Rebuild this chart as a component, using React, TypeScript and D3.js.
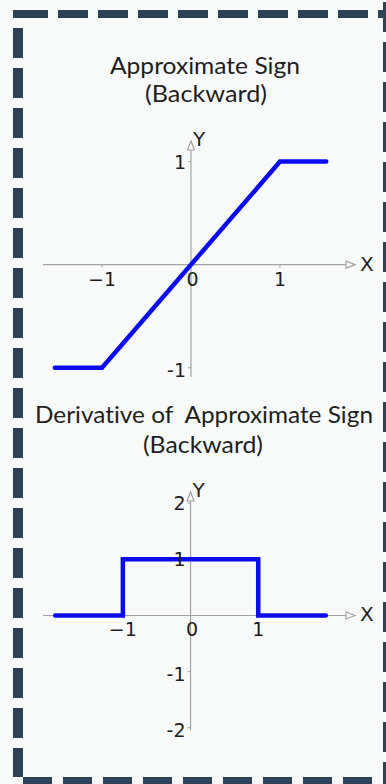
import React from "react";
import * as d3 from "d3";

const W = 386;
const H = 784;

// ---- Top chart: Approximate Sign (Backward)
const signTitle = ["Approximate Sign", "(Backward)"];
const signX = [-1.53, -1, 1, 1.52];
const signY = [-1, -1, 1, 1];
const signXTicks = [-1, 0, 1];
const signXTickLabels = ["−1", "0", "1"];
const signYTicks = [1, -1];
const signYTickLabels = ["1", "-1"];

// ---- Bottom chart: Derivative of Approximate Sign (Backward)
const derivTitle = ["Derivative of\u00a0 Approximate Sign", "(Backward)"];
const derivX = [-2, -1, -1, 1, 1, 2];
const derivY = [0, 0, 1, 1, 0, 0];
const derivXTicks = [-1, 0, 1];
const derivXTickLabels = ["−1", "0", "1"];
const derivYTicks = [2, 1, -1, -2];
const derivYTickLabels = ["2", "1", "-1", "-2"];

const BG = "#f8faf9";
const AXIS = "#a3a3a3";
const BLUE = "#0b0bf0";
const BORDER = "#2e4257";
const TEXT = "#1e1e1e";
const TICK_FONT = "'DejaVu Sans', sans-serif";
const TITLE_FONT = "Lato, 'Open Sans', sans-serif";

type PlotProps = {
  xs: number[];
  ys: number[];
  xDomain: [number, number];
  xRange: [number, number];
  yDomain: [number, number];
  yRange: [number, number];
  xTicks: number[];
  xTickLabels: string[];
  yTicks: number[];
  yTickLabels: string[];
};

function Plot(p: PlotProps) {
  const x = d3.scaleLinear().domain(p.xDomain).range(p.xRange);
  const y = d3.scaleLinear().domain(p.yDomain).range(p.yRange);
  const x0 = x(0);
  const y0 = y(0);
  const xTip = p.xRange[1];
  const yTip = p.yRange[1];
  const ah = 9; // arrow length
  const aw = 3.5; // arrow half-width
  const pts: [number, number][] = p.xs.map((v, i) => [v, p.ys[i]]);
  const line = d3
    .line<[number, number]>()
    .x((d) => x(d[0]))
    .y((d) => y(d[1]));
  return (
    <g>
      {/* x axis */}
      <line x1={p.xRange[0]} y1={y0} x2={xTip - ah} y2={y0} stroke={AXIS} strokeWidth={1.2} />
      <polygon
        points={`${xTip},${y0} ${xTip - ah},${y0 - aw} ${xTip - ah},${y0 + aw}`}
        fill={BG}
        stroke={AXIS}
        strokeWidth={1.2}
      />
      {/* y axis */}
      <line x1={x0} y1={p.yRange[0]} x2={x0} y2={yTip + ah} stroke={AXIS} strokeWidth={1.2} />
      <polygon
        points={`${x0},${yTip} ${x0 - aw},${yTip + ah} ${x0 + aw},${yTip + ah}`}
        fill={BG}
        stroke={AXIS}
        strokeWidth={1.2}
      />
      {/* ticks */}
      {p.xTicks.filter((t) => t !== 0).map((t) => (
        <line key={"xt" + t} x1={x(t)} x2={x(t)} y1={y0} y2={y0 + 3} stroke={AXIS} strokeWidth={1} />
      ))}
      {p.yTicks.map((t) => (
        <line key={"yt" + t} x1={x0} x2={x0 - 3} y1={y(t)} y2={y(t)} stroke={AXIS} strokeWidth={1} />
      ))}
      {/* data line */}
      <path d={line(pts) || ""} fill="none" stroke={BLUE} strokeWidth={4.5} strokeLinejoin="miter" strokeLinecap="round" />
      {/* tick labels */}
      {p.xTicks.map((t, i) => (
        <text
          key={"xl" + t}
          x={x(t) + (t === 0 ? 1.5 : 0)}
          y={y0 + 21}
          textAnchor="middle"
          fontFamily={TICK_FONT}
          fontSize={19}
          fill={TEXT}
        >
          {p.xTickLabels[i]}
        </text>
      ))}
      {p.yTicks.map((t, i) => (
        <text
          key={"yl" + t}
          x={x0 - 5}
          y={y(t) + 7 + (t < 0 ? 2 : 0)}
          textAnchor="end"
          fontFamily={TICK_FONT}
          fontSize={19}
          fill={TEXT}
        >
          {p.yTickLabels[i]}
        </text>
      ))}
      {/* axis names */}
      <text x={xTip + 5} y={y0 + 6} fontFamily={TICK_FONT} fontSize={20} fill={TEXT}>
        X
      </text>
      <text x={x0 + 2} y={yTip + 5} fontFamily={TICK_FONT} fontSize={20} fill={TEXT}>
        Y
      </text>
    </g>
  );
}

function Title({ lines, cx, y1, y2, w1, w2 }: { lines: string[]; cx: number[]; y1: number; y2: number; w1: number; w2: number }) {
  const st = { whiteSpace: "pre" as const, fontVariantLigatures: "none" as const, fontFeatureSettings: "'liga' 0, 'clig' 0" };
  return (
    <g fontFamily={TITLE_FONT} fontSize={23} fill={TEXT} textAnchor="middle">
      <text x={cx[0]} y={y1} textLength={w1} lengthAdjust="spacingAndGlyphs" style={st}>
        {lines[0]}
      </text>
      <text x={cx[1]} y={y2} textLength={w2} lengthAdjust="spacingAndGlyphs" style={st}>
        {lines[1]}
      </text>
    </g>
  );
}

export default function App() {
  return (
    <div style={{ position: "fixed", left: 0, top: 0, width: W, height: H }}>
      <svg width={W} height={H} viewBox={`0 0 ${W} ${H}`} style={{ display: "block" }}>
        <rect x={0} y={0} width={W} height={H} fill={BG} />
        {/* dashed frame */}
        <g stroke={BORDER} fill="none">
          <line x1={18} y1={14} x2={W + 4} y2={14} strokeWidth={8} strokeDasharray="30 10" />
          <rect x={13} y={10} width={6} height={8} fill={BORDER} stroke="none" />
          <line x1={18} y1={28} x2={18} y2={777} strokeWidth={10} strokeDasharray="30 10" />
          <line x1={23} y1={781} x2={W + 4} y2={781} strokeWidth={8} strokeDasharray="29 11" />
          <line x1={387} y1={2} x2={387} y2={777} strokeWidth={8} strokeDasharray="30 10" />
        </g>

        <Title lines={signTitle} cx={[205, 206]} y1={74} y2={102} w1={190} w2={122} />
        <Plot
          xs={signX}
          ys={signY}
          xDomain={[-1.663, 1.843]}
          xRange={[43, 355]}
          yDomain={[-1.09, 1.2]}
          yRange={[377, 141]}
          xTicks={signXTicks}
          xTickLabels={signXTickLabels}
          yTicks={signYTicks}
          yTickLabels={signYTickLabels}
        />

        <Title lines={derivTitle} cx={[204, 203]} y1={423} y2={453} w1={338} w2={120} />
        <Plot
          xs={derivX}
          ys={derivY}
          xDomain={[-2.18, 2.43]}
          xRange={[43, 355]}
          yDomain={[-2.04, 2.2]}
          yRange={[730, 492]}
          xTicks={derivXTicks}
          xTickLabels={derivXTickLabels}
          yTicks={derivYTicks}
          yTickLabels={derivYTickLabels}
        />
      </svg>
    </div>
  );
}
